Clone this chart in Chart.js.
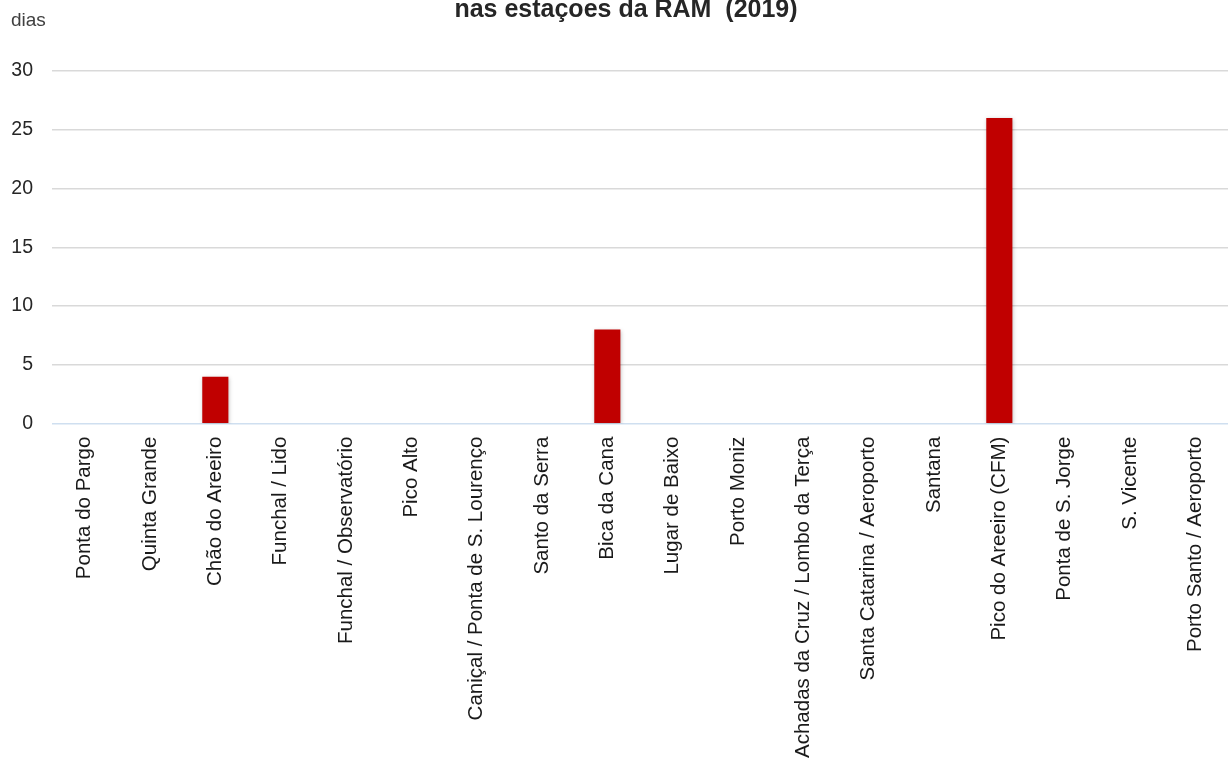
<!DOCTYPE html>
<html>
<head>
<meta charset="utf-8">
<script src="https://cdn.jsdelivr.net/npm/chart.js@4/dist/chart.umd.min.js"></script>
<style>
  html, body { margin: 0; padding: 0; background: #fff; }
  #chart-container { width: 1228px; height: 772px; position: relative; }
</style>
</head>
<body>
<div id="chart-container"><canvas id="chart"></canvas></div>
<script>
const stations = ['Ponta do Pargo', 'Quinta Grande', 'Chão do Areeiro', 'Funchal / Lido', 'Funchal / Observatório', 'Pico Alto', 'Caniçal / Ponta de S. Lourenço', 'Santo da Serra', 'Bica da Cana', 'Lugar de Baixo', 'Porto Moniz', 'Achadas da Cruz / Lombo da Terça', 'Santa Catarina / Aeroporto', 'Santana', 'Pico do Areeiro (CFM)', 'Ponta de S. Jorge', 'S. Vicente', 'Porto Santo / Aeroporto'];
const days = [0, 0, 4, 0, 0, 0, 0, 0, 8, 0, 0, 0, 0, 0, 26, 0, 0, 0];
const yTicks = [0, 5, 10, 15, 20, 25, 30];

const titleText = 'nas estaçoes da RAM  (2019)';
const unitText = 'dias';

// title line and unit label drawn straight on the canvas
const headerPlugin = {
    id: 'header',
    afterDraw(c) {
        const ctx = c.ctx;
        ctx.save();
        ctx.fillStyle = '#262626';
        ctx.font = 'bold 25px "Liberation Sans", Arial, sans-serif';
        ctx.textAlign = 'center';
        ctx.textBaseline = 'alphabetic';
        ctx.fillText(titleText, 626, 17);
        ctx.font = '19px "Liberation Sans", Arial, sans-serif';
        ctx.textAlign = 'left';
        ctx.fillStyle = '#404040';
        ctx.fillText(unitText, 11, 26);
        ctx.restore();
    }
};

// soft shadow under the bars
const shadowPlugin = {
    id: 'barShadow',
    beforeDatasetsDraw(c) {
        const ctx = c.ctx;
        ctx.save();
        ctx.shadowColor = 'rgba(0,0,0,0.25)';
        ctx.shadowBlur = 4;
        ctx.shadowOffsetX = 1;
        ctx.shadowOffsetY = 1;
    },
    afterDatasetsDraw(c) {
        c.ctx.restore();
    }
};

const chart = document.getElementById('chart').getContext('2d');
const myChart = new Chart(chart, {
    type: 'bar',
    data: {
        labels: stations,
        datasets: [{
            data: days,
            backgroundColor: '#c00000',
            borderWidth: 0,
            barPercentage: 0.4,
            categoryPercentage: 1.0
        }]
    },
    options: {
        responsive: true,
        maintainAspectRatio: false,
        animation: false,
        layout: { padding: { top: 71, right: 0, bottom: 9, left: 0 } },
        plugins: {
            legend: { display: false },
            tooltip: { enabled: false }
        },
        scales: {
            x: {
                grid: { display: false },
                border: { display: false },
                ticks: {
                    color: '#1a1a1a',
                    font: { family: '"Liberation Sans", Arial, sans-serif', size: 20.5 },
                    minRotation: 90,
                    maxRotation: 90,
                    autoSkip: false,
                    padding: 5
                }
            },
            y: {
                min: 0,
                max: 30,
                afterBuildTicks(axis) {
                    axis.ticks = yTicks.map(v => ({ value: v }));
                },
                afterFit(axis) {
                    axis.width = 52;
                },
                grid: {
                    color: ctx => ctx.tick && ctx.tick.value === 0 ? '#cfdff0' : '#d9d9d9',
                    lineWidth: 1.5,
                    drawTicks: false
                },
                border: { display: false },
                ticks: {
                    color: '#262626',
                    font: { family: '"Liberation Sans", Arial, sans-serif', size: 19.5 },
                    padding: 19
                }
            }
        }
    },
    plugins: [headerPlugin, shadowPlugin]
});
</script>
</body>
</html>
